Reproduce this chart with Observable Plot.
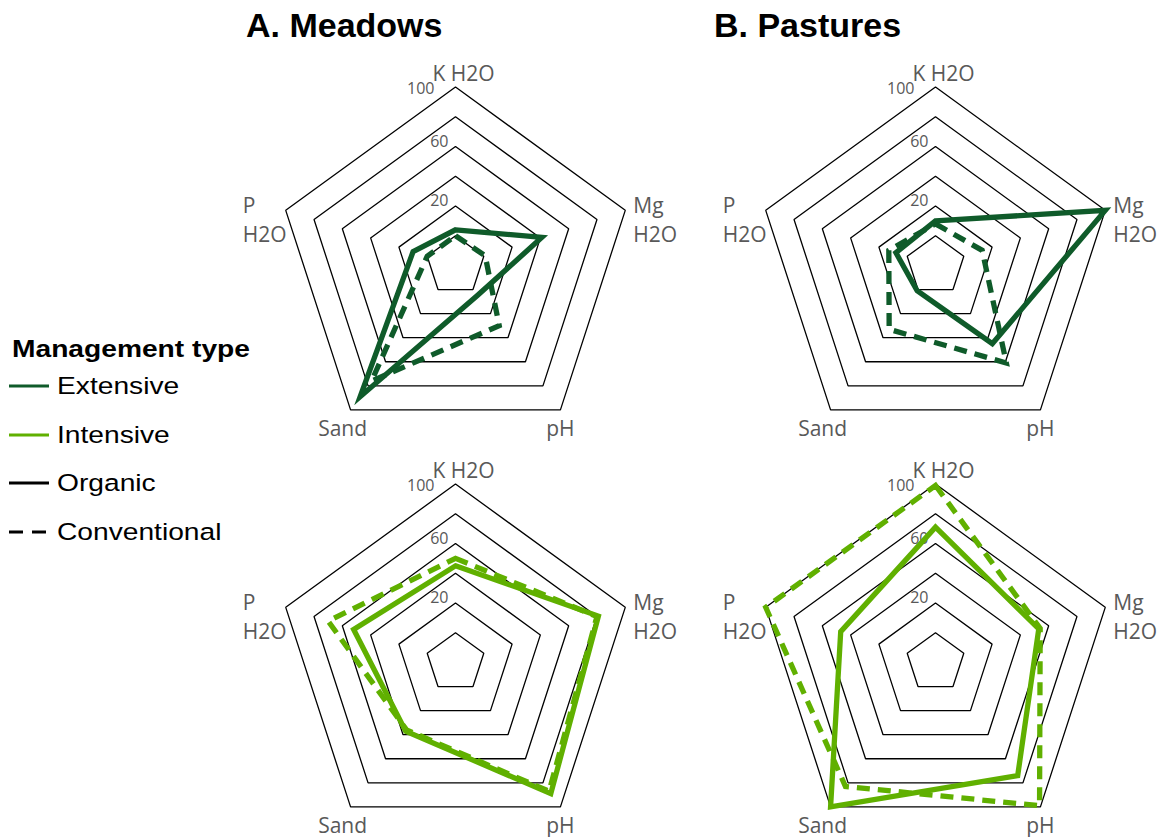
<!DOCTYPE html>
<html><head><meta charset="utf-8">
<script src="https://cdn.jsdelivr.net/npm/d3@7"></script>
<script src="https://cdn.jsdelivr.net/npm/@observablehq/plot@0.6"></script>
<style>
body{margin:0;background:#fff;}
#wrap{position:relative;width:1161px;height:837px;font-family:"Liberation Sans",Arial,sans-serif;}
#wrap svg{position:absolute;left:0;top:0;}
.title{position:absolute;top:8px;font-size:34px;font-weight:bold;line-height:34px;color:#000;white-space:nowrap;}
.leg{position:absolute;font-size:24.5px;line-height:24px;white-space:nowrap;color:#000;transform:scaleX(1.15);transform-origin:left center;}
.sw{position:absolute;}
</style></head><body><div id="wrap"></div>
<script>
// ---- data ----
const axes = ["K H2O", "Mg H2O", "pH", "Sand", "P H2O"];
const axisLabels = ["K H2O", "Mg\nH2O", "pH", "Sand", "P\nH2O"];
const habitats = ["A. Meadows", "B. Pastures"];
const intensities = ["Extensive", "Intensive"];
const systems = ["Organic", "Conventional"];
const ringValues = [0, 20, 40, 60, 80, 100];
const tickLabels = [20, 60];
const tickLabelTop = [100];
const radialMin = -20, radialMax = 100;

// values in axis order: K H2O, Mg H2O, pH, Sand, P H2O
const meadowsExtensiveOrganic      = [4, 41, 5, 89, 10];
const meadowsExtensiveConventional = [0, 1, 30, 76, 0];
const pasturesExtensiveOrganic      = [10, 100, 45, 1, 8];
const pasturesExtensiveConventional = [8, 13, 61, 33, 13];
const meadowsIntensiveOrganic      = [45, 81, 89, 37, 52];
const meadowsIntensiveConventional = [50, 80, 87, 36, 70];
const pasturesIntensiveOrganic      = [71, 53, 74, 100, 47];
const pasturesIntensiveConventional = [99, 54, 99, 83, 100];

const legendItems = ["Extensive", "Intensive", "Organic", "Conventional"];

// ---- build tables ----
const series = [
  [habitats[0], intensities[0], systems[0], meadowsExtensiveOrganic],
  [habitats[0], intensities[0], systems[1], meadowsExtensiveConventional],
  [habitats[1], intensities[0], systems[0], pasturesExtensiveOrganic],
  [habitats[1], intensities[0], systems[1], pasturesExtensiveConventional],
  [habitats[0], intensities[1], systems[0], meadowsIntensiveOrganic],
  [habitats[0], intensities[1], systems[1], meadowsIntensiveConventional],
  [habitats[1], intensities[1], systems[0], pasturesIntensiveOrganic],
  [habitats[1], intensities[1], systems[1], pasturesIntensiveConventional]
];
const points = series.flatMap(([habitat, intensity, system, vals]) =>
  vals.map((value, idx) => ({habitat, intensity, system, value, idx, axis: axes[idx], key: habitat + intensity + system})));
const rings = ringValues.flatMap(v => axes.map((a, idx) => ({value: v, idx})));
const spokes = axes.map((a, idx) => ({value: radialMax, idx, label: axisLabels[idx]}));

const rad = v => (v - radialMin) / (radialMax - radialMin);
const ang = i => i * 2 * Math.PI / axes.length;
const px = d => rad(d.value) * Math.sin(ang(d.idx));
const py = d => rad(d.value) * Math.cos(ang(d.idx));

const darkGreen = "#0f5b2a", lightGreen = "#60b000", gray = "#595959";
const unit = 178.5, facetW = 440, facetH = 340;

const labelFont = "'Open Sans', sans-serif";
const labelLayout = [
  {anchor: "middle", dx: 8, dy: -15},
  {anchor: "start", dx: 8, dy: 8},
  {anchor: "middle", dx: 0, dy: 17},
  {anchor: "middle", dx: -8, dy: 17},
  {anchor: "start", dx: -43, dy: 8}
];

const chart = Plot.plot({
  width: 1161, height: 837,
  marginLeft: 235, marginRight: 6, marginTop: 94.5, marginBottom: 5.5,
  facet: {marginTop: 0, marginRight: 0, marginBottom: 0, marginLeft: 0},
  fx: {domain: habitats, axis: null, paddingInner: 40 / 480, paddingOuter: 0},
  fy: {domain: intensities, axis: null, paddingInner: 57 / 397, paddingOuter: 0},
  x: {domain: [-facetW / 2 / unit, facetW / 2 / unit], axis: null},
  y: {domain: [-facetH / 2 / unit, facetH / 2 / unit], axis: null},
  color: {domain: intensities, range: [darkGreen, lightGreen]},
  style: {fontFamily: labelFont, overflow: "visible"},
  marks: [
    Plot.line(rings, {x: px, y: py, z: "value", curve: "linear-closed", stroke: "black", strokeWidth: 1.3, strokeLinejoin: "miter"}),
    Plot.text(tickLabels, {x: 0, y: v => rad(v), text: d => String(d), textAnchor: "end", dx: -7, dy: -5, fontSize: 16, fill: gray}),
    Plot.text(tickLabelTop, {x: 0, y: v => rad(v), text: d => String(d), textAnchor: "end", dx: -21, dy: 2, fontSize: 16, fill: gray}),
    ...spokes.map((s, i) => Plot.text([s], {x: px, y: py, text: "label", textAnchor: labelLayout[i].anchor, dx: labelLayout[i].dx, dy: labelLayout[i].dy, lineAnchor: "middle", lineHeight: 1.38, fontSize: 21, fill: gray})),
    Plot.line(points.filter(d => d.system === "Conventional"), {x: px, y: py, z: "key", fx: "habitat", fy: "intensity", stroke: "intensity", curve: "linear-closed", strokeWidth: 5.3, strokeDasharray: "13,8", strokeLinejoin: "miter", strokeMiterlimit: 4, strokeLinecap: "butt"}),
    Plot.line(points.filter(d => d.system === "Organic"), {x: px, y: py, z: "key", fx: "habitat", fy: "intensity", stroke: "intensity", curve: "linear-closed", strokeWidth: 5.3, strokeLinejoin: "miter", strokeMiterlimit: 4, strokeLinecap: "butt"})
  ]
});

const wrap = document.getElementById("wrap");
wrap.appendChild(chart);

// titles
const titleLeft = [246, 714];
habitats.forEach((h, i) => {
  const t = document.createElement("div");
  t.className = "title"; t.style.left = titleLeft[i] + "px"; t.textContent = h;
  wrap.appendChild(t);
});

// legend
const lt = document.createElement("div");
lt.className = "leg"; lt.style.left = "12px"; lt.style.top = "337px"; lt.style.fontWeight = "bold";
lt.textContent = "Management type";
wrap.appendChild(lt);
const legendColors = [darkGreen, lightGreen, "#000", "#000"];
const legendDash = [null, null, null, "14,9"];
legendItems.forEach((name, i) => {
  const base = 394.5 + i * 48.5;
  const d = document.createElement("div");
  d.className = "leg"; d.style.left = "57px"; d.style.top = (base - 20.3) + "px";
  d.textContent = name;
  wrap.appendChild(d);
  const ns = "http://www.w3.org/2000/svg";
  const s = document.createElementNS(ns, "svg");
  s.setAttribute("width", 52); s.setAttribute("height", 8);
  s.setAttribute("class", "sw");
  s.style.left = "0px"; s.style.top = (base - 8.5 - 4) + "px";
  const l = document.createElementNS(ns, "line");
  l.setAttribute("x1", 9); l.setAttribute("x2", 49); l.setAttribute("y1", 4); l.setAttribute("y2", 4);
  l.setAttribute("stroke", legendColors[i]); l.setAttribute("stroke-width", 3);
  if (legendDash[i]) l.setAttribute("stroke-dasharray", legendDash[i]);
  s.appendChild(l);
  wrap.appendChild(s);
});
</script>
</body></html>
